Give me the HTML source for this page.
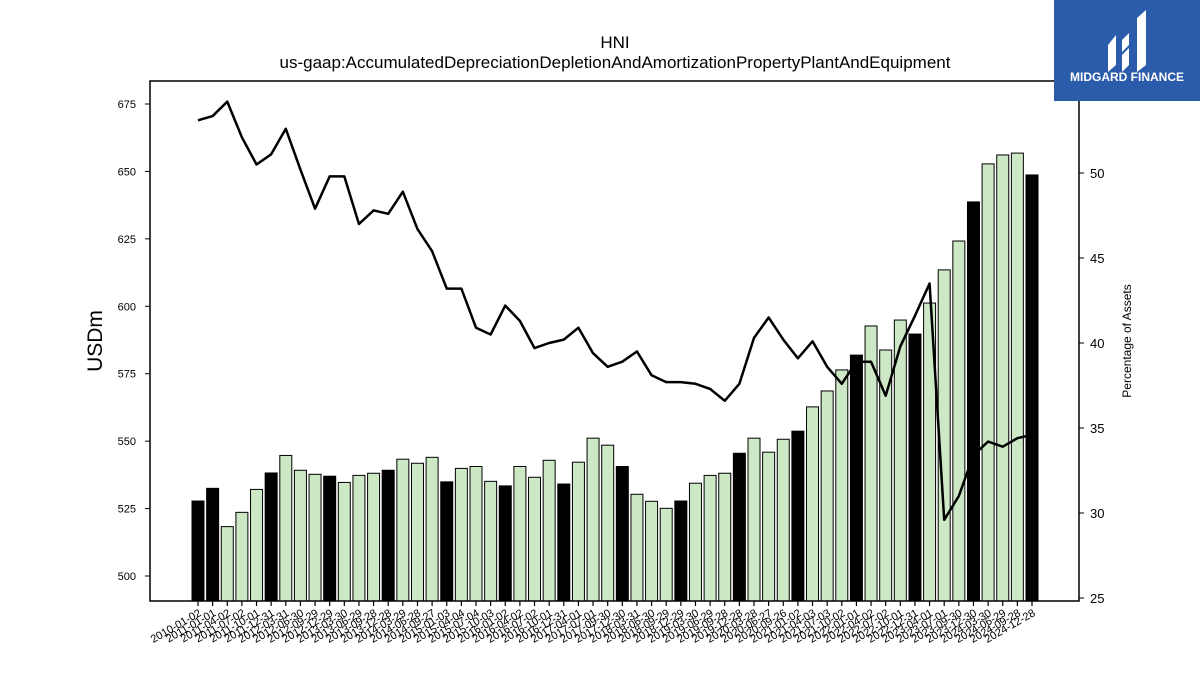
<!DOCTYPE html>
<html><head><meta charset="utf-8"><style>
html,body{margin:0;padding:0;background:#fff;}
svg{display:block;font-family:"Liberation Sans","DejaVu Sans",sans-serif;}
</style></head><body>
<svg id="chart" width="1200" height="675" viewBox="0 0 1200 675">
<text x="615" y="48" text-anchor="middle" font-size="17">HNI</text>
<text x="615" y="68" text-anchor="middle" font-size="17">us-gaap:AccumulatedDepreciationDepletionAndAmortizationPropertyPlantAndEquipment</text>
<g id="bars"></g>
<g id="line"></g>
<g id="axes"></g>
<rect x="150" y="81" width="929" height="520" fill="none" stroke="#000" stroke-width="1.5"/>
<text transform="translate(102,341) rotate(-90)" text-anchor="middle" font-size="21">USDm</text>
<text transform="translate(1131,341) rotate(-90)" text-anchor="middle" font-size="12">Percentage of Assets</text>
<g>
<rect x="1054" y="0" width="146" height="101" fill="#2b5bab"/>
<path d="M1108 45 L1116 35 L1116 65 L1108 72 Z M1122 40 L1129 33 L1129 45 L1122 52 Z M1122 55 L1129 48 L1129 65 L1122 72 Z M1137 18 L1146 10 L1146 65 L1137 72 Z" fill="#fff"/>
<text x="1127" y="81" text-anchor="middle" font-size="12" font-weight="bold" fill="#fff">MIDGARD FINANCE</text>
</g>
</svg>
<script>
const dates=["2010-01-02","2011-01-01","2011-04-02","2011-07-02","2011-10-01","2011-12-31","2012-03-31","2012-06-30","2012-09-29","2012-12-29","2013-03-30","2013-06-29","2013-09-28","2013-12-28","2014-03-29","2014-06-28","2014-09-27","2015-01-03","2015-04-04","2015-07-04","2015-10-03","2016-01-02","2016-04-02","2016-07-02","2016-10-01","2016-12-31","2017-04-01","2017-07-01","2017-09-30","2017-12-30","2018-03-31","2018-06-30","2018-09-29","2018-12-29","2019-03-30","2019-06-29","2019-09-28","2019-12-28","2020-03-28","2020-06-27","2020-09-26","2021-01-02","2021-04-03","2021-07-03","2021-10-02","2022-01-01","2022-04-02","2022-07-02","2022-10-01","2022-12-31","2023-04-01","2023-07-01","2023-09-30","2023-12-30","2024-03-30","2024-06-29","2024-09-28","2024-12-28"];
const values=[527.8,532.5,518.3,523.6,532.1,538.2,544.7,539.2,537.7,537.0,534.7,537.3,538.1,539.2,543.3,541.8,544.0,534.9,539.9,540.6,535.1,533.4,540.6,536.6,542.9,534.1,542.2,551.1,548.5,540.6,530.3,527.7,525.1,527.8,534.4,537.3,538.1,545.5,551.1,545.9,550.7,553.7,562.7,568.6,576.4,581.9,592.7,583.8,594.9,589.7,601.2,613.5,624.2,638.7,652.8,656.1,656.8,648.7];
const pct=[53.1,53.35,54.2,52.1,50.5,51.1,52.6,50.2,47.9,49.8,49.8,47.0,47.8,47.6,48.9,46.7,45.4,43.2,43.2,40.9,40.5,42.2,41.3,39.7,40.0,40.2,40.9,39.4,38.6,38.9,39.5,38.1,37.7,37.7,37.6,37.3,36.6,37.6,40.3,41.5,40.2,39.1,40.1,38.6,37.6,38.9,38.9,36.9,39.8,41.6,43.5,29.6,31.0,33.4,34.2,33.9,34.4,34.6];
const yTicks=[500,525,550,575,600,625,650,675];
const y2Ticks=[25,30,35,40,45,50];
const NS="http://www.w3.org/2000/svg";
const xPos=i=>198+i*(1032-198)/(dates.length-1);
const yL=v=>576-(v-500)*(472/175);
const yR=v=>173+(50-v)*17;
const bottom=601;
function mk(tag,attrs,parent){const e=document.createElementNS(NS,tag);for(const k in attrs)e.setAttribute(k,attrs[k]);parent.appendChild(e);return e;}
const gb=document.getElementById('bars'),gl=document.getElementById('line'),ga=document.getElementById('axes');
values.forEach((v,i)=>{
  const black=(i===0||i%4===1);
  const r=mk('rect',{x:xPos(i)-6,y:yL(v),width:12,height:bottom-yL(v),fill:black?'#000':'#cce8c4',stroke:'#000','stroke-width':1},gb);
  
  
  const t=mk('line',{x1:xPos(i),x2:xPos(i),y1:bottom,y2:bottom+5,stroke:'#000','stroke-width':1.2},ga);
  
  
  const lx=xPos(i)+4,ly=bottom+14;
  const tx=mk('text',{x:lx,y:ly,'text-anchor':'end','font-size':11,transform:`rotate(-30 ${lx} ${ly})`},ga);
  tx.textContent=dates[i];
  
  
});
const pl=mk('polyline',{points:pct.map((p,i)=>xPos(i)+','+yR(p)).join(' '),fill:'none',stroke:'#000','stroke-width':2.5,'stroke-linejoin':'round'},gl);


yTicks.forEach(v=>{
  const t=mk('line',{x1:145,x2:150,y1:yL(v),y2:yL(v),stroke:'#000'},ga);
  
  
  const tx=mk('text',{x:136,y:yL(v)+4,'text-anchor':'end','font-size':11},ga);
  tx.textContent=v;
  
  
});
y2Ticks.forEach(v=>{
  const t=mk('line',{x1:1079,x2:1084,y1:yR(v),y2:yR(v),stroke:'#000'},ga);
  
  
  const tx=mk('text',{x:1090,y:yR(v)+5,'text-anchor':'start','font-size':13},ga);
  tx.textContent=v;
  
  
});
</script>
</body></html>
